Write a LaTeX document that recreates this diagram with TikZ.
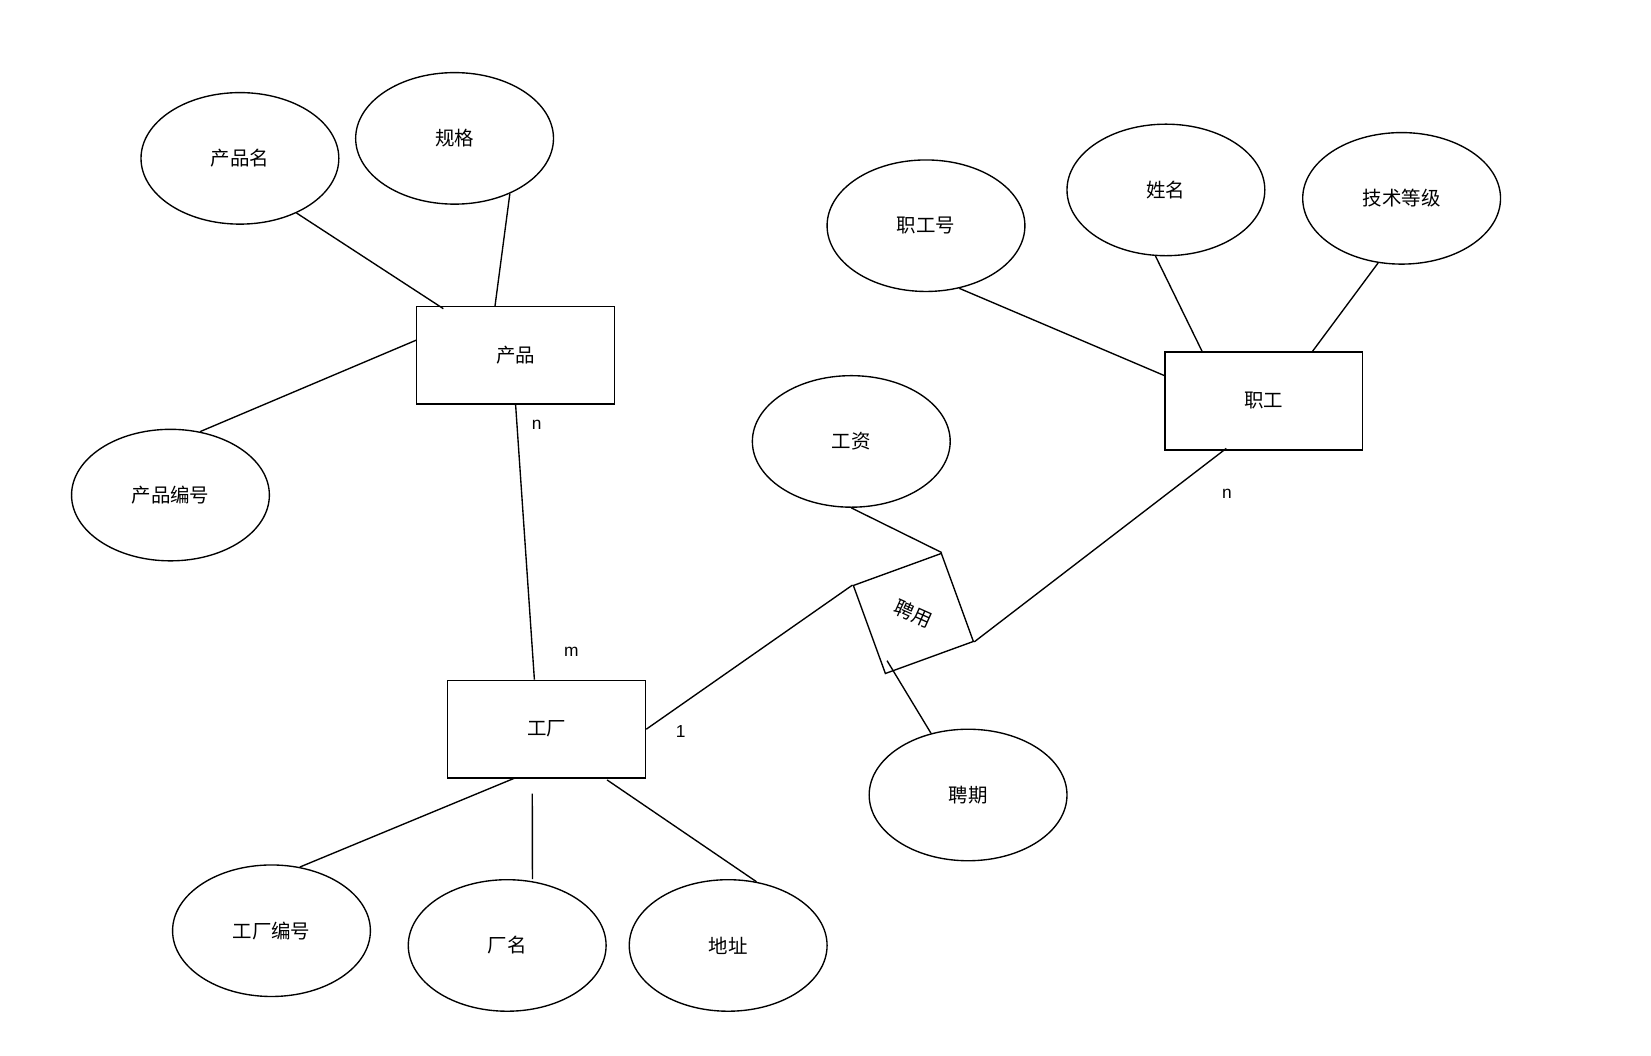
\documentclass[tikz,border=0pt]{standalone}
\usepackage{fontspec}
\setmainfont{Liberation Sans}
\newfontfamily\cjk{Noto Sans CJK SC}
\usetikzlibrary{shapes.geometric}
\begin{document}
\begin{tikzpicture}[x=1pt,y=-1pt,
  every path/.style={line width=1.3pt},
  attr/.style={ellipse,draw,line width=1.3pt,minimum width=188pt,minimum height=125pt,inner sep=0pt,font=\cjk\fontsize{18.5}{22}\selectfont},
  ent/.style={rectangle,draw,line width=1.3pt,minimum width=188pt,minimum height=93pt,inner sep=0pt,font=\cjk\fontsize{18.5}{22}\selectfont},
  rel/.style={rectangle,draw,line width=1.3pt,minimum size=89pt,inner sep=0pt,rotate=20,font=\cjk\fontsize{18.5}{22}\selectfont},
  card/.style={font=\fontsize{16.5}{19}\selectfont,inner sep=0pt}]
\useasboundingbox (0,0) rectangle (1569,1003);
\fill[white] (0,0) rectangle (1569,1003);
% entities
\node[ent] (cp) at (490,337.5) {产品};
\node[ent] (zg) at (1201,381) {职工};
\node[ent] (gc) at (519.5,693) {工厂};
\node[rel] (py) at (868,583) {\rotatebox{-44}{聘用}};
% attributes
\node[attr] (cpm) at (228,150.5) {产品名};
\node[attr] (gg) at (432,131.5) {规格};
\node[attr] (cpbh) at (162,470.5) {产品编号};
\node[attr] (zgh) at (880,214.5) {职工号};
\node[attr] (xm) at (1108,180.5) {姓名};
\node[attr] (jsdj) at (1332,188.5) {技术等级};
\node[attr] (gz) at (809,419.5) {工资};
\node[attr] (pq) at (920,755.5) {聘期};
\node[attr] (gcbh) at (258,884.5) {工厂编号};
\node[attr] (cm) at (482,898.5) {厂名};
\node[attr] (dz) at (692,898.5) {地址};
% connectors
\draw (cpm.-44.7) -- ([xshift=26pt,yshift=-3pt]cp.north west);
\draw (gg.-45.3) -- ([xshift=75pt,yshift=-1pt]cp.north west);
\draw (cpbh.65.4) -- ([yshift=-33pt]cp.north west);
\draw (cp.south) -- ([xshift=83pt]gc.north west);
\draw (zgh.-62.5) -- ([yshift=-23pt]zg.north west);
\draw (xm.-99.5) -- ([xshift=36pt]zg.north west);
\draw (jsdj.-110.6) -- ([xshift=141pt]zg.north west);
\draw ([xshift=59pt,yshift=2pt]zg.south west) -- (py.south east);
\draw (gz.south) -- (py.north east);
\draw (gc.east) -- (py.north west);
\draw ([xshift=2pt,yshift=13pt]py.south west) -- (pq.121);
\draw ([xshift=65pt,yshift=1pt]gc.south west) -- (gcbh.66.2);
\draw ([xshift=81pt,yshift=-14pt]gc.south west) -- ([xshift=24pt,yshift=0pt]cm.north);
\draw ([xshift=152pt,yshift=-1pt]gc.south west) -- (dz.66.2);
% cardinalities
\node[card] (c1) at (510,404) {n};
\node[card] (c2) at (543,619) {m};
\node[card] (c3) at (647,695) {1};
\node[card] (c4) at (1166,469) {n};
\end{tikzpicture}
\end{document}
